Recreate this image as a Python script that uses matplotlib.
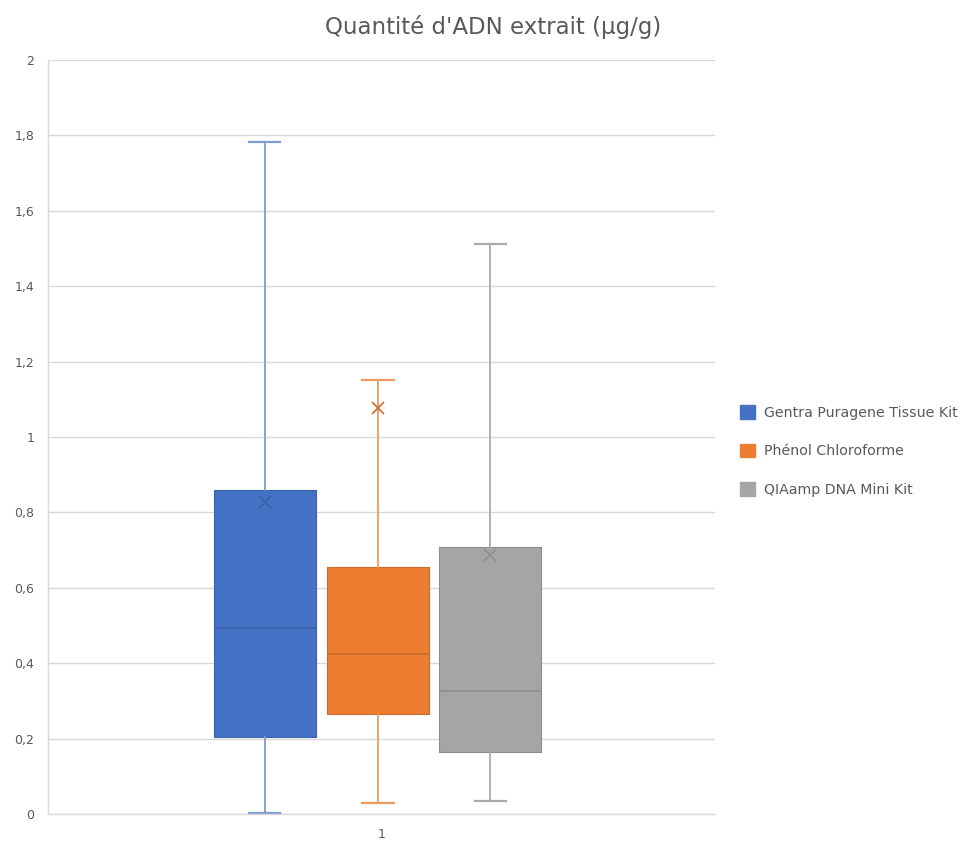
import matplotlib
matplotlib.use("Agg")
import matplotlib.pyplot as plt
from matplotlib.patches import Patch

series = ["Gentra Puragene Tissue Kit", "Phénol Chloroforme", "QIAamp DNA Mini Kit"]
whislo = [0.003, 0.029, 0.034]
q1 = [0.204, 0.265, 0.164]
med = [0.493, 0.424, 0.326]
q3 = [0.859, 0.655, 0.708]
whishi = [1.782, 1.151, 1.512]
means = [0.828, 1.077, 0.687]
colors = ["#4472C4", "#ED7D31", "#A5A5A5"]
whisker_colors = ["#7F9BD3", "#EF9A63", "#ABABAB"]
median_colors = ["#3A62AA", "#CC6A2A", "#8E8E8E"]
yticks = [0, 0.2, 0.4, 0.6, 0.8, 1, 1.2, 1.4, 1.6, 1.8, 2]
category = "1"

fig = plt.figure(figsize=(9.68, 8.48), dpi=100)
ax = fig.add_axes([48/968, 34/848, 667/968, 754/848])

positions = [0.825, 0.995, 1.163]
width = 0.153
for i in range(3):
    stats = [dict(whislo=whislo[i], q1=q1[i], med=med[i], q3=q3[i], whishi=whishi[i],
                  mean=means[i], fliers=[])]
    ax.bxp(stats, positions=[positions[i]], widths=width, patch_artist=True,
           showmeans=True, showfliers=False,
           boxprops=dict(facecolor=colors[i], edgecolor=median_colors[i], linewidth=0.8),
           whiskerprops=dict(color=whisker_colors[i], linewidth=1.3),
           capprops=dict(color=whisker_colors[i], linewidth=1.6),
           capwidths=0.047,
           medianprops=dict(color=median_colors[i], linewidth=1.2),
           meanprops=dict(marker="x", markeredgecolor=median_colors[i], markersize=9,
                          markeredgewidth=1.2))

ax.set_xlim(0.5, 1.5)
ax.set_ylim(0, 2)
ax.set_yticks(yticks)
ax.set_yticklabels([("%g" % v).replace(".", ",") for v in yticks])
ax.set_xticks([1.0])
ax.set_xticklabels([category])
ax.tick_params(axis="both", length=0, labelsize=9, colors="#595959", pad=10)
ax.yaxis.grid(True, color="#D9D9D9", linewidth=1)
ax.set_axisbelow(True)
for s in ["top", "right"]:
    ax.spines[s].set_visible(False)
for s in ["left", "bottom"]:
    ax.spines[s].set_color("#D9D9D9")
    ax.spines[s].set_linewidth(1)

fig.text(493/968, 1 - 27/848, "Quantité d'ADN extrait (µg/g)", ha="center", va="center",
         fontsize=16.5, color="#595959")

handles = [Patch(facecolor=c, edgecolor=c) for c in colors]
fig.legend(handles, series, loc="center left", bbox_to_anchor=(727/968, 1 - 451/848),
           frameon=False, fontsize=10.2, labelcolor="#595959", handlelength=1.1,
           handleheight=1.1, labelspacing=1.68, handletextpad=0.6)

fig.savefig("out.png", dpi=100)
